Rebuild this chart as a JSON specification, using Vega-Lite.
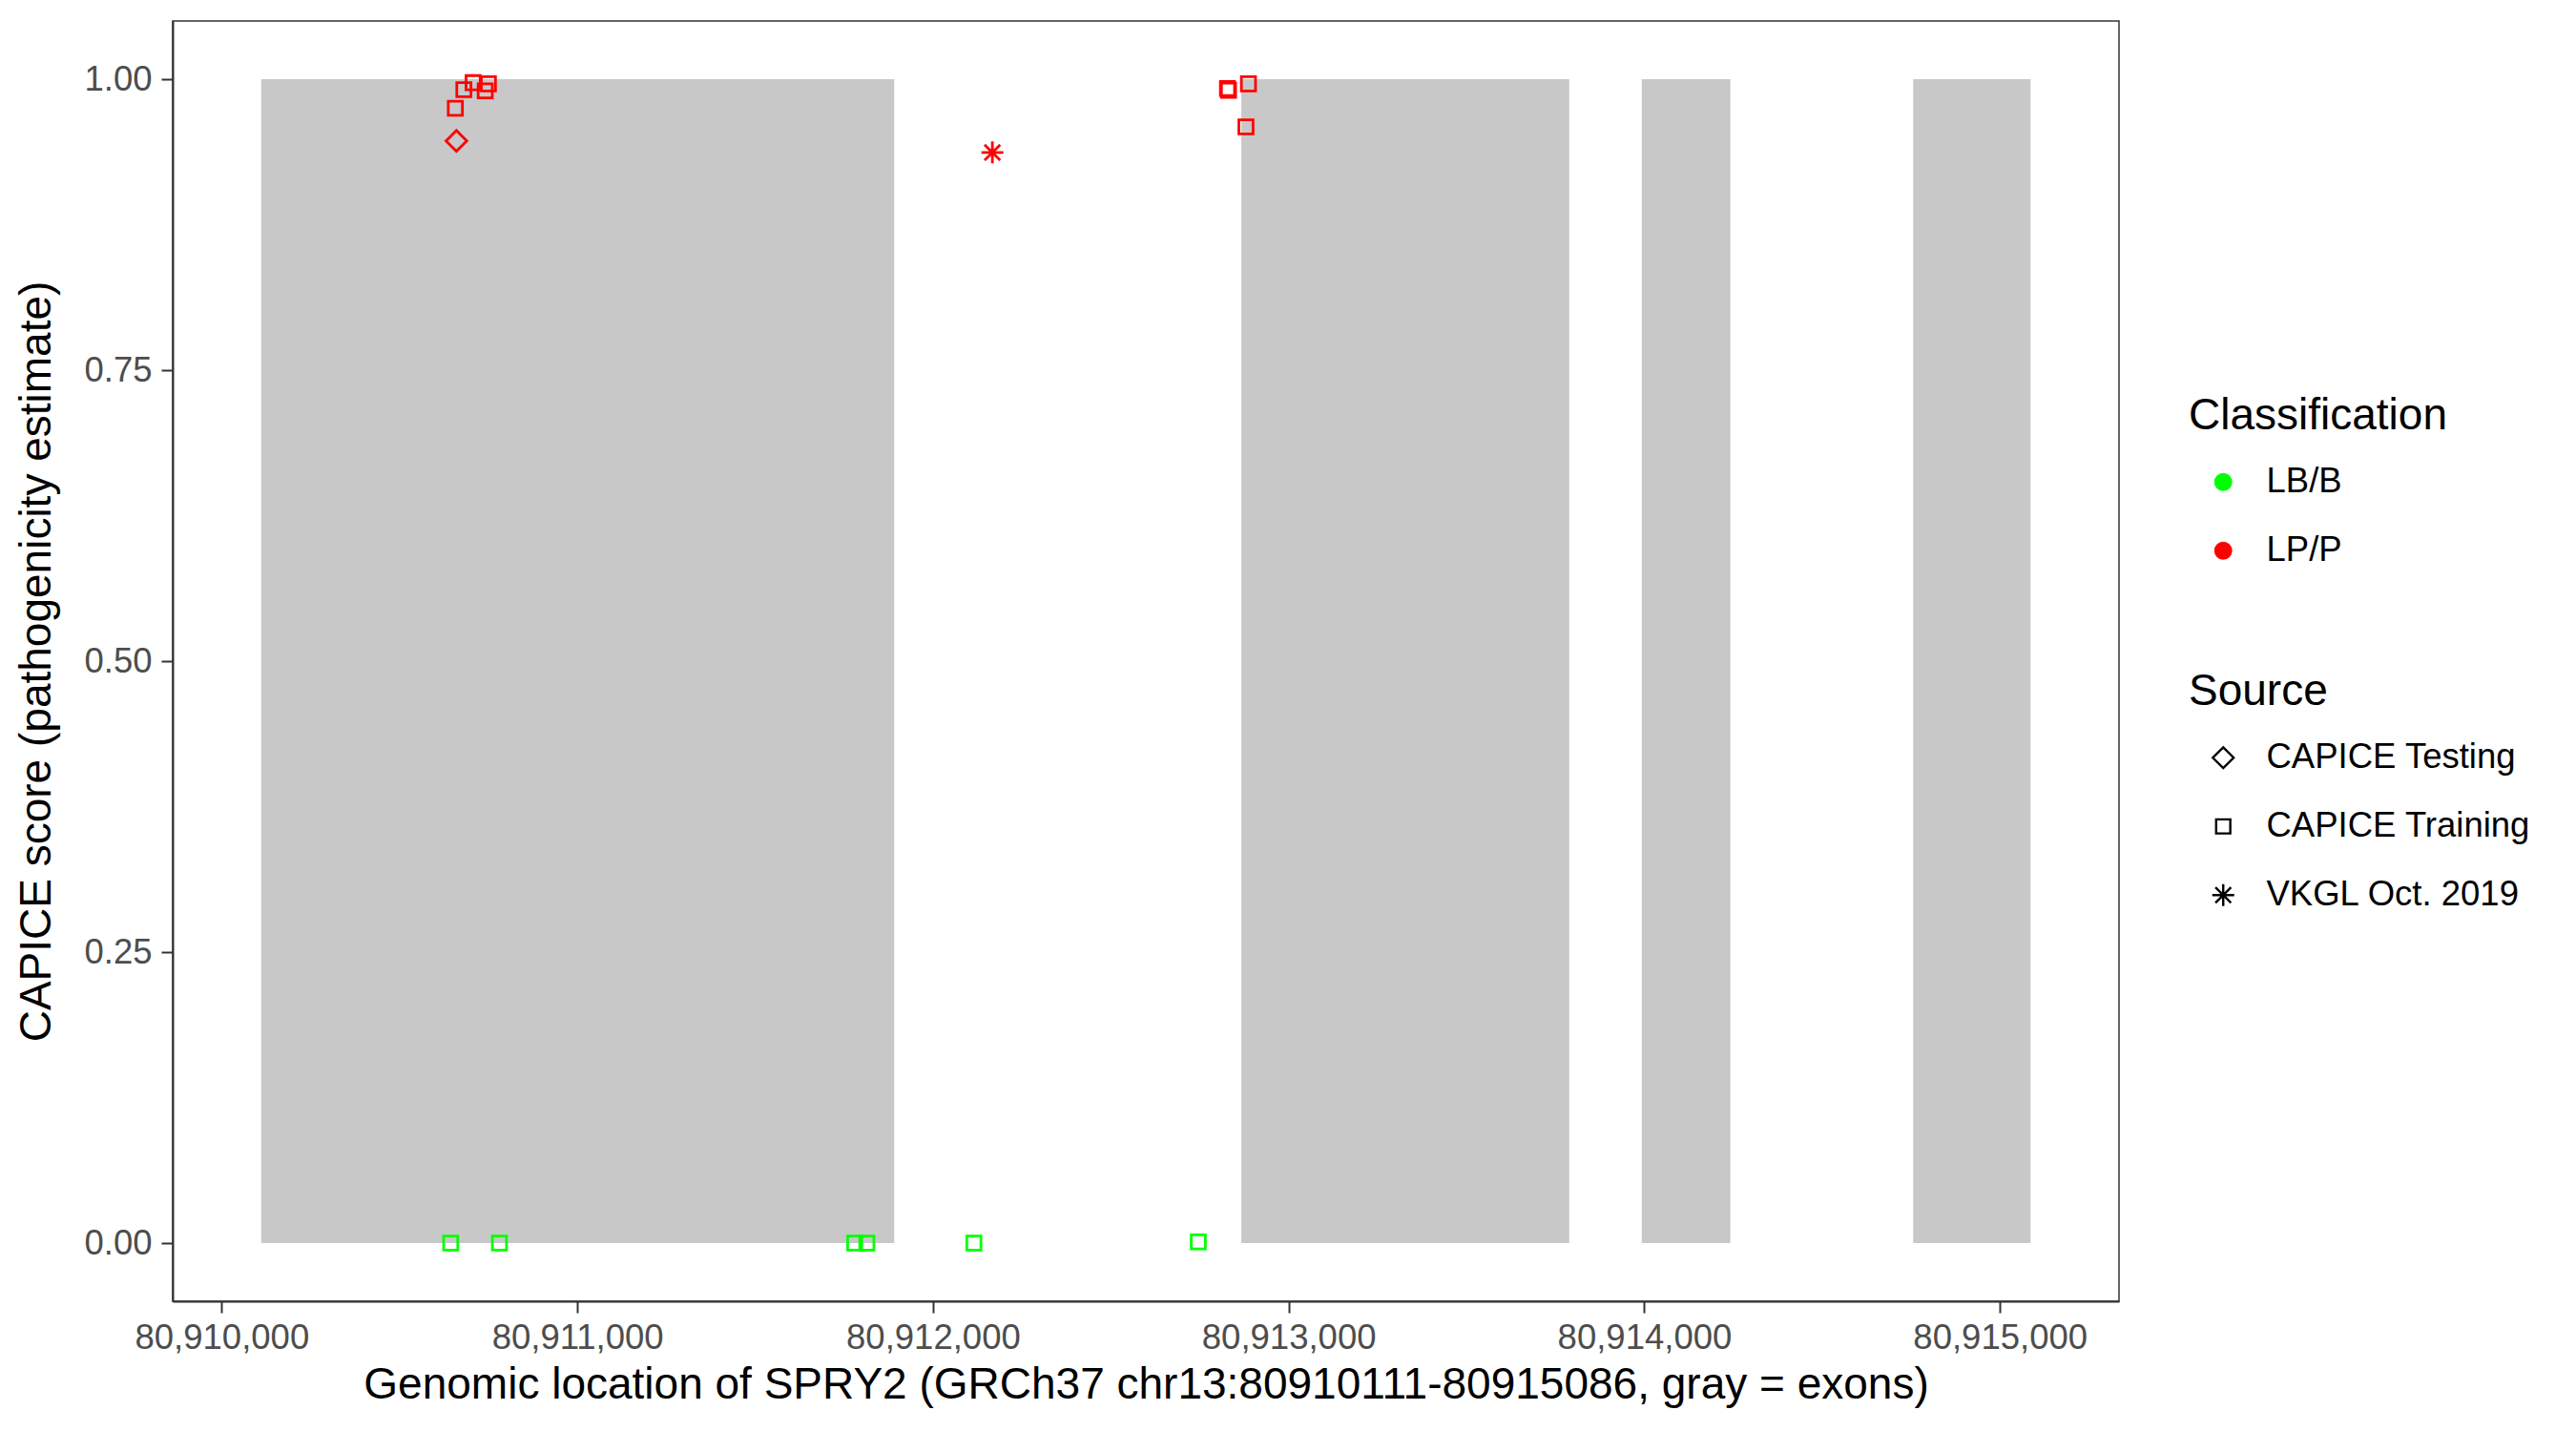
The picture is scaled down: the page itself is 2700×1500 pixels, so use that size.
{
  "$schema": "https://vega.github.io/schema/vega-lite/v6.json",
  "width": 2040,
  "height": 1342,
  "autosize": {"type": "none"},
  "padding": {"left": 181, "top": 22, "right": 479, "bottom": 136},
  "background": "white",
  "datasets": {
    "exons": [
      {"start": 80910111, "end": 80911891},
      {"start": 80912867, "end": 80913789},
      {"start": 80913993, "end": 80914242},
      {"start": 80914756, "end": 80915086}
    ],
    "variants": [
      {"pos": 80910657, "score": 0.975, "Classification": "LP/P", "Source": "CAPICE Training"},
      {"pos": 80910681, "score": 0.991, "Classification": "LP/P", "Source": "CAPICE Training"},
      {"pos": 80910707, "score": 0.997, "Classification": "LP/P", "Source": "CAPICE Training"},
      {"pos": 80910741, "score": 0.990, "Classification": "LP/P", "Source": "CAPICE Training"},
      {"pos": 80910750, "score": 0.996, "Classification": "LP/P", "Source": "CAPICE Training"},
      {"pos": 80910660, "score": 0.947, "Classification": "LP/P", "Source": "CAPICE Testing"},
      {"pos": 80912828, "score": 0.992, "Classification": "LP/P", "Source": "CAPICE Training"},
      {"pos": 80912831, "score": 0.9905, "Classification": "LP/P", "Source": "CAPICE Training"},
      {"pos": 80912887, "score": 0.996, "Classification": "LP/P", "Source": "CAPICE Training"},
      {"pos": 80912880, "score": 0.959, "Classification": "LP/P", "Source": "CAPICE Training"},
      {"pos": 80912167, "score": 0.937, "Classification": "LP/P", "Source": "VKGL Oct. 2019"},
      {"pos": 80910644, "score": 0.000, "Classification": "LB/B", "Source": "CAPICE Training"},
      {"pos": 80910781, "score": 0.000, "Classification": "LB/B", "Source": "CAPICE Training"},
      {"pos": 80911780, "score": 0.000, "Classification": "LB/B", "Source": "CAPICE Training"},
      {"pos": 80911814, "score": 0.000, "Classification": "LB/B", "Source": "CAPICE Training"},
      {"pos": 80912115, "score": 0.000, "Classification": "LB/B", "Source": "CAPICE Training"},
      {"pos": 80912746, "score": 0.001, "Classification": "LB/B", "Source": "CAPICE Training"}
    ]
  },
  "layer": [
    {
      "data": {"name": "exons"},
      "mark": {"type": "rect", "color": "#C8C8C8", "strokeWidth": 0},
      "encoding": {
        "x": {"field": "start", "type": "quantitative"},
        "x2": {"field": "end"},
        "y": {"datum": 0, "type": "quantitative"},
        "y2": {"datum": 1}
      }
    },
    {
      "data": {"name": "variants"},
      "mark": {"type": "point", "filled": false, "strokeWidth": 2.8, "size": 220, "opacity": 1},
      "encoding": {
        "x": {
          "field": "pos", "type": "quantitative",
          "scale": {"domain": [80909862.25, 80915334.75], "nice": false, "zero": false},
          "axis": {
            "title": "Genomic location of SPRY2 (GRCh37 chr13:80910111-80915086, gray = exons)",
            "values": [80910000, 80911000, 80912000, 80913000, 80914000, 80915000],
            "format": ",d",
            "labelPadding": 8,
            "titlePadding": 9,
            "labelLimit": 0,
            "labelOverlap": false
          }
        },
        "y": {
          "field": "score", "type": "quantitative",
          "scale": {"domain": [-0.05, 1.05], "nice": false, "zero": false},
          "axis": {
            "title": "CAPICE score (pathogenicity estimate)",
            "values": [0, 0.25, 0.5, 0.75, 1],
            "format": ".2f",
            "labelPadding": 10,
            "titlePadding": 25,
            "labelLimit": 0
          }
        },
        "color": {
          "field": "Classification", "type": "nominal",
          "scale": {"domain": ["LB/B", "LP/P"], "range": ["#00FF00", "#FF0000"]},
          "legend": {
            "orient": "none", "legendX": 2113, "legendY": 392,
            "symbolType": "circle", "symbolSize": 300,
            "titlePadding": 27, "rowPadding": 35,
            "encoding": {
              "symbols": {
                "fill": {"value": {"expr": "scale('color', datum.value)"}},
                "stroke": {"value": "transparent"},
                "opacity": {"value": 1}
              }
            }
          }
        },
        "shape": {
          "field": "Source", "type": "nominal",
          "scale": {
            "domain": ["CAPICE Testing", "CAPICE Training", "VKGL Oct. 2019"],
            "range": [
              "M0,-1.47L1.47,0L0,1.47L-1.47,0Z",
              "M-1,-1L1,-1L1,1L-1,1Z",
              "M-1.55,0L1.55,0M0,-1.55L0,1.55M-1.1,-1.1L1.1,1.1M-1.1,1.1L1.1,-1.1"
            ]
          },
          "legend": {
            "orient": "none", "legendX": 2113, "legendY": 681,
            "symbolSize": 220, "symbolStrokeColor": "black", "symbolFillColor": "transparent", "symbolStrokeWidth": 2.4,
            "titlePadding": 27, "rowPadding": 35
          }
        }
      }
    }
  ],
  "config": {
    "font": "Liberation Sans",
    "view": {"stroke": "#333333", "strokeWidth": 1.5},
    "axis": {
      "grid": false,
      "domainColor": "#333333", "domainWidth": 2,
      "tickColor": "#333333", "tickWidth": 2, "tickSize": 12,
      "labelFont": "Liberation Sans", "labelFontSize": 36.5, "labelColor": "#4D4D4D",
      "titleFont": "Liberation Sans", "titleFontSize": 46, "titleFontWeight": "normal", "titleColor": "black"
    },
    "legend": {
      "padding": 0,
      "titleFont": "Liberation Sans", "titleFontSize": 46, "titleFontWeight": "normal", "titleColor": "black",
      "labelFont": "Liberation Sans", "labelFontSize": 36.5, "labelColor": "black",
      "labelOffset": 27, "symbolOffset": 18,
      "labelLimit": 0, "titleLimit": 0
    }
  }
}
